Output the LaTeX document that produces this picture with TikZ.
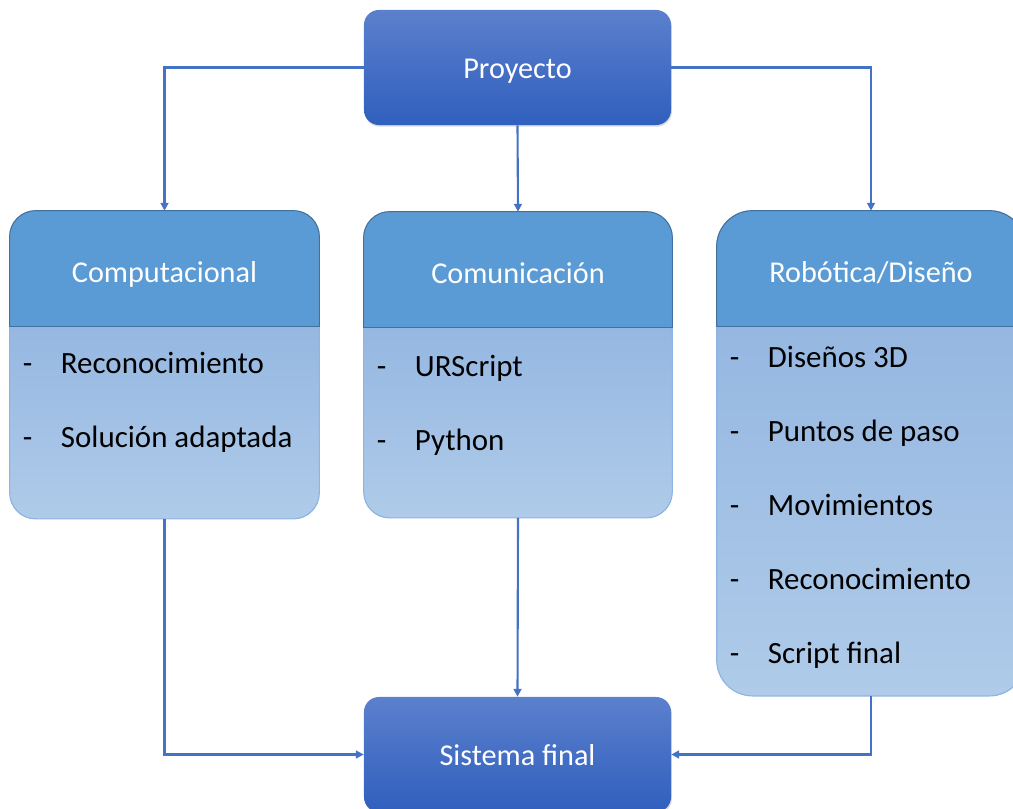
\documentclass[tikz,border=0pt]{standalone}
\usepackage{fontspec}
\setmainfont{Carlito}
\usetikzlibrary{arrows.meta,backgrounds,shadows,positioning}

\definecolor{azul}{HTML}{4472C4}
\definecolor{azulclaro}{HTML}{5B80CD}
\definecolor{azuloscuro}{HTML}{305FBE}
\definecolor{cabecera}{HTML}{5B9BD5}
\definecolor{bordecab}{HTML}{41719C}
\definecolor{cuerpoarriba}{HTML}{95B7E1}
\definecolor{cuerpoabajo}{HTML}{AFCBE9}
\definecolor{bordecuerpo}{HTML}{8DB4E2}

% fondo de una tarjeta: cabecera #1, cuerpo #2, radio #3
\newcommand{\tarjeta}[3]{
  \begin{scope}[on background layer]
    \begin{scope}
      \clip[rounded corners=#3] (#1.north west) rectangle (#2.south east);
      \fill[top color=cuerpoarriba, bottom color=cuerpoabajo] (#2.north west) rectangle (#2.south east);
      \fill[cabecera] (#1.north west) rectangle (#1.south east);
    \end{scope}
    \draw[bordecuerpo, line width=0.8pt, rounded corners=#3] (#1.north west) rectangle (#2.south east);
    \begin{scope}
      \clip ([shift={(-5,5)}]#1.north west) rectangle ([xshift=5]#1.south east);
      \draw[bordecab, line width=0.8pt, rounded corners=#3] (#1.north west) rectangle (#2.south east);
    \end{scope}
    \draw[bordecab, line width=0.6pt] (#1.south west) -- (#1.south east);
  \end{scope}
}

\begin{document}
\begin{tikzpicture}[x=0.025cm,y=0.025cm,
    principal/.style={rounded corners=0.375cm, top color=azulclaro, bottom color=azuloscuro,
      text=white, font=\fontsize{21.5}{26}\selectfont, minimum width=7.675cm, minimum height=2.875cm,
      text height=20.6pt, text depth=5.4pt,
      drop shadow={opacity=0.3, shadow xshift=0.6pt, shadow yshift=-1.2pt}},
    cabeza/.style={text=white, font=\fontsize{21.5}{26}\selectfont, minimum width=7.725cm,
      minimum height=2.875cm, inner sep=0pt, text height=25.8pt, text depth=5.4pt},
    cuerpo/.style={minimum width=7.725cm, inner sep=0pt},
    item/.style={anchor=base west, font=\fontsize{22}{26}\selectfont, inner sep=0pt},
    flecha/.style={draw=azul, line width=1.5pt, -{Triangle[length=5.5pt,width=5.5pt]}}]
  \useasboundingbox (0,0) rectangle (1013,809);

  % cajas principales
  \node[principal] (proy) at (517.5,741.5) {Proyecto};
  \node[principal] (final) at (517.5,54.5) {Sistema final};

  % tarjetas
  \node[cabeza] (comp) at (164.5,540.5) {Computacional};
  \node[cuerpo, minimum height=4.8cm, below=0pt of comp] (compcuerpo) {};
  \node[cabeza, minimum width=7.7cm] (com) at (518,539.5) {Comunicación};
  \node[cuerpo, minimum width=7.7cm, minimum height=4.75cm, below=0pt of com] (comcuerpo) {};
  \node[cabeza, minimum width=7.7cm] (rob) at (871,540.5) {Robótica/Diseño};
  \node[cuerpo, minimum width=7.7cm, minimum height=9.225cm, below=0pt of rob] (robcuerpo) {};

  \tarjeta{comp}{compcuerpo}{0.65cm}
  \tarjeta{com}{comcuerpo}{0.65cm}
  \tarjeta{rob}{robcuerpo}{0.9cm}

  % listas
  \foreach \t [count=\i] in {Reconocimiento, Solución adaptada}
    \node[item] (compi\i) at ([shift={(13,{-47-74*(\i-1)})}]compcuerpo.north west) {\makebox[0.95cm][l]{-}\t};
  \foreach \t [count=\i] in {URScript, Python}
    \node[item] (comi\i) at ([shift={(13,{-49-74*(\i-1)})}]comcuerpo.north west) {\makebox[0.95cm][l]{-}\t};
  \foreach \t [count=\i] in {Diseños 3D, Puntos de paso, Movimientos, Reconocimiento, Script final}
    \node[item] (robi\i) at ([shift={(13,{-41-74*(\i-1)})}]robcuerpo.north west) {\makebox[0.95cm][l]{-}\t};

  % conexiones
  \draw[flecha] (proy.west) -| (comp.north);
  \draw[flecha] (proy.south) -- (com.north);
  \draw[flecha] (proy.east) -| (rob.north);
  \draw[flecha] (compcuerpo.south) |- (final.west);
  \draw[flecha] (comcuerpo.south) -- (final.north);
  \draw[flecha] (robcuerpo.south) |- (final.east);
\end{tikzpicture}
\end{document}
